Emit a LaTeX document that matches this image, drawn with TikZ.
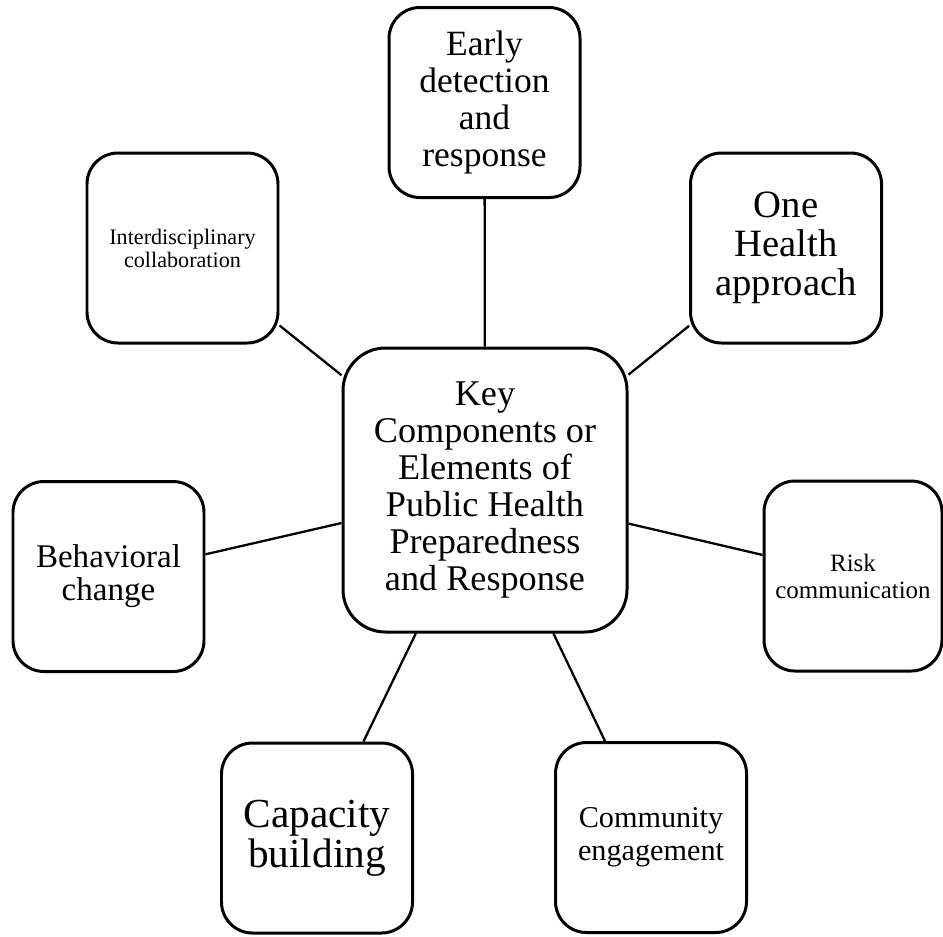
\documentclass[tikz,border=0pt]{standalone}
\usepackage{fontspec}
\setmainfont{Liberation Serif}

\begin{document}
\begin{tikzpicture}[
  part/.style={draw, line width=1.7pt, rounded corners=0.62cm,
               minimum width=3.82cm, minimum height=3.8cm,
               align=center, inner sep=2pt},
  core/.style={draw, line width=1.7pt, rounded corners=0.85cm,
               minimum size=5.68cm, align=center, inner sep=2pt},
  lk/.style={draw, line width=1.3pt}
]
  \useasboundingbox (0,0) rectangle (18.86,-18.72);
  % hub in the middle
  \node[core, font=\fontsize{20.6}{21.1}\selectfont] (key) at (9.70,-9.80)
    {Key\\Components or\\Elements of\\Public Health\\Preparedness\\and Response};
  % boxes round the hub, clockwise from the top
  \node[part, font=\fontsize{20.2}{21.1}\selectfont] (early) at (9.69,-2.05)
    {Early\\detection\\and\\response};
  \node[part, font=\fontsize{22}{22.2}\selectfont] (health) at (15.72,-4.96)
    {One\\Health\\approach};
  \node[part, minimum width=3.56cm, font=\fontsize{14.2}{15.4}\selectfont]
    (risk) at (17.06,-11.52) {Risk\\communication};
  \node[part, font=\fontsize{17.2}{18.8}\selectfont] (engage) at (13.02,-16.75)
    {Community\\engagement};
  \node[part, font=\fontsize{23.5}{22.8}\selectfont] (capacity) at (6.34,-16.76)
    {Capacity\\building};
  \node[part, font=\fontsize{18.8}{18.8}\selectfont] (behave) at (2.17,-11.53)
    {Behavioral\\change};
  \node[part, font=\fontsize{12.6}{13.1}\selectfont] (interdis) at (3.65,-4.96)
    {Interdisciplinary\\collaboration};
  \foreach \n in {early,health,risk,engage,capacity,behave,interdis}
    \draw[lk] (key) -- (\n);
\end{tikzpicture}
\end{document}
